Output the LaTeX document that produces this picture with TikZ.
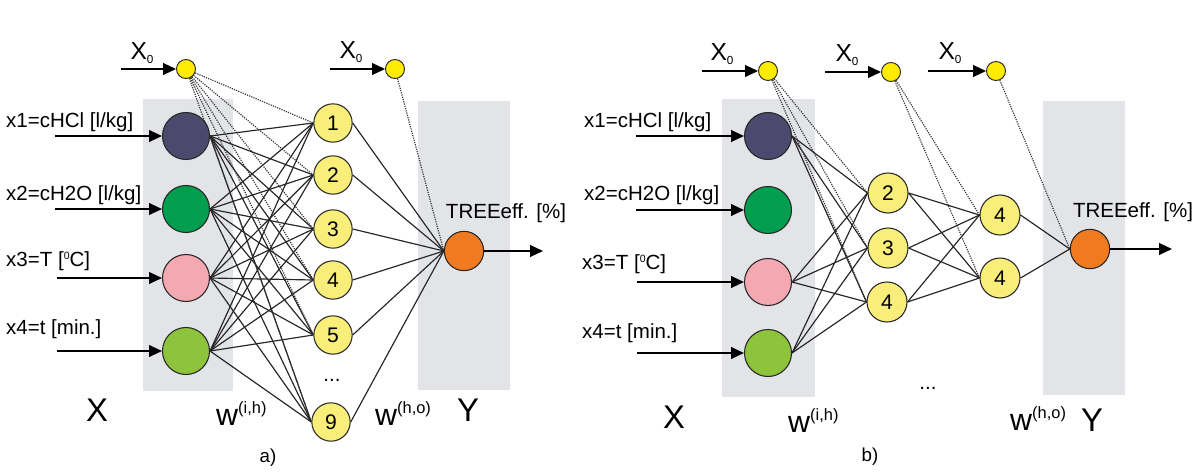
\documentclass[tikz,border=0pt]{standalone}
\usepackage{fontspec}
\setmainfont{Liberation Sans}
\usetikzlibrary{arrows.meta}
\pgfdeclarelayer{back}
\pgfdeclarelayer{edges}
\pgfsetlayers{back,edges,main}
\definecolor{cdark}{RGB}{75,74,110}
\definecolor{cgreen}{RGB}{0,158,78}
\definecolor{cpink}{RGB}{244,168,178}
\definecolor{clime}{RGB}{142,196,60}
\definecolor{chid}{RGB}{250,238,122}
\definecolor{cbias}{RGB}{255,236,0}
\definecolor{corange}{RGB}{240,122,32}
\definecolor{cgray}{RGB}{226,228,231}
\newcommand{\lab}{\fontsize{17.5}{20}\selectfont}
\newcommand{\xz}{{\fontsize{21}{22}\selectfont X}\raisebox{-3pt}{\fontsize{10}{10}\selectfont 0}}
\newcommand{\wlab}[1]{w\raisebox{10pt}{\fontsize{14}{14}\selectfont (#1)}}
\begin{document}
\begin{tikzpicture}[x=0.03cm,y=-0.03cm,
  innode/.style={circle,draw=black!85,line width=0.9pt,minimum size=1.41cm,inner sep=0pt},
  hida/.style={circle,draw=black!85,fill=chid,line width=0.9pt,minimum size=1.15cm,inner sep=0pt,font=\fontsize{18}{20}\selectfont},
  hidb/.style={hida,minimum size=1.2cm},
  biasn/.style={circle,draw=black!85,fill=cbias,line width=0.8pt,minimum size=0.57cm,inner sep=0pt},
  outn/.style={circle,draw=black!85,fill=corange,line width=0.9pt,minimum size=1.18cm,inner sep=0pt},
  wire/.style={line width=1pt,black!85},
  bwire/.style={dash pattern=on 1pt off 1pt,line width=1pt,black!80},
  inarrow/.style={line width=1.3pt,-{Triangle[length=11pt,width=10pt]}},
  txt/.style={inner sep=0pt,font=\lab},
  big/.style={inner sep=0pt,font=\fontsize{28}{30}\selectfont},
  wl/.style={inner sep=0pt,font=\fontsize{26}{28}\selectfont,anchor=base west},
  graybox/.style={fill=cgray,draw=none}
]
\useasboundingbox (0,0) rectangle (1200,473);

% ---------------- panel a ----------------
\begin{pgfonlayer}{back}
  \fill[graybox] (143,99) rectangle (233,391);
  \fill[graybox] (418,101) rectangle (510,390);
\end{pgfonlayer}

\node[innode,fill=cdark]  (ia1) at (186,136) {};
\node[innode,fill=cgreen] (ia2) at (186,209) {};
\node[innode,fill=cpink]  (ia3) at (186,278) {};
\node[innode,fill=clime]  (ia4) at (186,351) {};

\node[biasn] (ba1) at (186,69) {};
\node[biasn] (ba2) at (395,69) {};
\node[txt] (xa1) at (142,53) {\xz};
\node[txt] (xa2) at (351,52) {\xz};
\coordinate (sa1) at (121,69);
\coordinate (sa2) at (330,69);
\draw[inarrow] (sa1) -- (ba1.west);
\draw[inarrow] (sa2) -- (ba2.west);

\node[hida] (ha1) at (333,123) {1};
\node[hida] (ha2) at (333,175) {2};
\node[hida] (ha3) at (333,229) {3};
\node[hida] (ha4) at (333,280) {4};
\node[hida] (ha5) at (333,335) {5};
\node[hida] (ha9) at (331,422) {9};
\node[txt,anchor=base] (dota) at (332,381) {...};

\node[outn] (oa) at (464,251) {};
\coordinate (ea) at (543,251);
\draw[inarrow] (oa.east) -- (ea);
\node[txt] (ta) at (506,213) {TREEeff. [\%]};

\node[txt,anchor=west] (la1) at (6,122) {x1=cHCl [l/kg]};
\node[txt,anchor=west] (la2) at (6,195) {x2=cH2O [l/kg]};
\node[txt,anchor=west] (la3) at (6,261) {x3=T [\raisebox{6pt}{\fontsize{9}{9}\selectfont 0}C]};
\node[txt,anchor=west] (la4) at (6,329) {x4=t [min.]};
\coordinate (sa3) at (55,136);
\coordinate (sa4) at (55,209);
\coordinate (sa5) at (57,278);
\coordinate (sa6) at (57,351);
\draw[inarrow] (sa3) -- (ia1.west);
\draw[inarrow] (sa4) -- (ia2.west);
\draw[inarrow] (sa5) -- (ia3.west);
\draw[inarrow] (sa6) -- (ia4.west);

\begin{pgfonlayer}{edges}
  \foreach \i in {1,2,3,4}{
    \foreach \h in {1,2,3,4,5,9}{
      \draw[wire] (ia\i.east) -- (ha\h.west);
    }
  }
  \foreach \h in {1,2,3,4,5,9}{
    \draw[bwire] (ba1) -- (ha\h.west);
    \draw[wire] (ha\h.east) -- (oa.west);
  }
  \draw[bwire] (ba2) -- (oa.west);
\end{pgfonlayer}

\node[big] (bxa) at (97,410) {X};
\node[big] (bya) at (468,410) {Y};
\node[wl] (wa1) at (216,425) {\wlab{i,h}};
\node[wl] (wa2) at (375,425) {\wlab{h,o}};
\node[inner sep=0pt,font=\fontsize{16}{18}\selectfont] (capa) at (268,458) {a)};

% ---------------- panel b ----------------
\begin{pgfonlayer}{back}
  \fill[graybox] (722,99) rectangle (815,397);
  \fill[graybox] (1043,101) rectangle (1125,395);
\end{pgfonlayer}

\node[innode,fill=cdark]  (ib1) at (768,136) {};
\node[innode,fill=cgreen] (ib2) at (768,210) {};
\node[innode,fill=cpink]  (ib3) at (768,282) {};
\node[innode,fill=clime]  (ib4) at (768,353) {};

\node[biasn] (bb1) at (768,71) {};
\node[biasn] (bb2) at (891,72) {};
\node[biasn] (bb3) at (996,71) {};
\node[txt] (xb1) at (722,54) {\xz};
\node[txt] (xb2) at (847,55) {\xz};
\node[txt] (xb3) at (950,53) {\xz};
\coordinate (sb1) at (702,71);
\coordinate (sb2) at (825,72);
\coordinate (sb3) at (928,71);
\draw[inarrow] (sb1) -- (bb1.west);
\draw[inarrow] (sb2) -- (bb2.west);
\draw[inarrow] (sb3) -- (bb3.west);

\node[hidb] (hb2) at (888,193) {2};
\node[hidb] (hb3) at (888,248) {3};
\node[hidb] (hb4) at (887,302) {4};
\node[hidb] (hc1) at (1000,215) {4};
\node[hidb] (hc2) at (1000,278) {4};
\node[txt,anchor=base] (dotb) at (928,389) {...};

\node[outn] (ob) at (1090,249) {};
\coordinate (eb) at (1172,249);
\draw[inarrow] (ob.east) -- (eb);
\node[txt] (tb) at (1133,212) {TREEeff. [\%]};

\node[txt,anchor=west] (lb1) at (584,122) {x1=cHCl [l/kg]};
\node[txt,anchor=west] (lb2) at (584,195) {x2=cH2O [l/kg]};
\node[txt,anchor=west] (lb3) at (582,264) {x3=T [\raisebox{6pt}{\fontsize{9}{9}\selectfont 0}C]};
\node[txt,anchor=west] (lb4) at (582,333) {x4=t [min.]};
\coordinate (sb4) at (636,136);
\coordinate (sb5) at (636,210);
\coordinate (sb6) at (637,282);
\coordinate (sb7) at (637,353);
\draw[inarrow] (sb4) -- (ib1.west);
\draw[inarrow] (sb5) -- (ib2.west);
\draw[inarrow] (sb6) -- (ib3.west);
\draw[inarrow] (sb7) -- (ib4.west);

\begin{pgfonlayer}{edges}
  \foreach \i in {1,3,4}{
    \foreach \h in {2,3,4}{
      \draw[wire] (ib\i.east) -- (hb\h.west);
    }
  }
  \foreach \h in {2,3,4}{
    \draw[bwire] (bb1) -- (hb\h.west);
    \foreach \k in {1,2}{
      \draw[wire] (hb\h.east) -- (hc\k.west);
    }
  }
  \foreach \k in {1,2}{
    \draw[bwire] (bb2) -- (hc\k.west);
    \draw[wire] (hc\k.east) -- (ob.west);
  }
  \draw[bwire] (bb3) -- (ob.west);
\end{pgfonlayer}

\node[big] (bxb) at (674,417) {X};
\node[big] (byb) at (1092,420) {Y};
\node[wl] (wb1) at (788,432) {\wlab{i,h}};
\node[wl] (wb2) at (1010,430) {\wlab{h,o}};
\node[inner sep=0pt,font=\fontsize{16}{18}\selectfont] (capb) at (870,457) {b)};
\end{tikzpicture}
\end{document}
